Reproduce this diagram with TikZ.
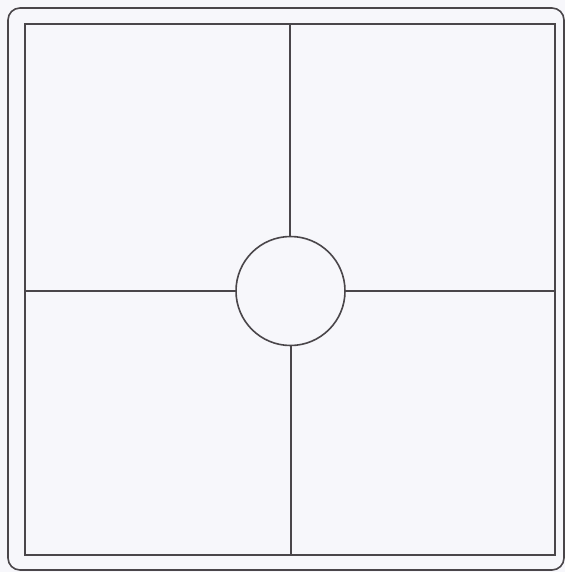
\documentclass[tikz,border=0pt]{standalone}
\definecolor{inkc}{RGB}{74,70,74}
\definecolor{paper}{RGB}{247,247,251}
\begin{document}
\begin{tikzpicture}[x=1pt,y=-1pt,
  ink/.style={draw=inkc, line width=1.6pt},
  hub/.style={ink, circle, minimum size=109pt, inner sep=0pt}]
\fill[paper] (0,0) rectangle (565,572);
\useasboundingbox (0,0) rectangle (565,572);
\draw[ink, rounded corners=12pt] (8,8) rectangle (564,570);
\draw[ink] (25,24) rectangle (555,555);
\node[hub] (c) at (290.5,291) {};
\coordinate (t) at (290,24);
\coordinate (b) at (291,555);
\coordinate (l) at (25,291);
\coordinate (r) at (555,291);
\draw[ink] (t) -- (t |- c.north);
\draw[ink] (b |- c.south) -- (b);
\draw[ink] (l) -- (c.west);
\draw[ink] (c.east) -- (r);
\end{tikzpicture}
\end{document}
